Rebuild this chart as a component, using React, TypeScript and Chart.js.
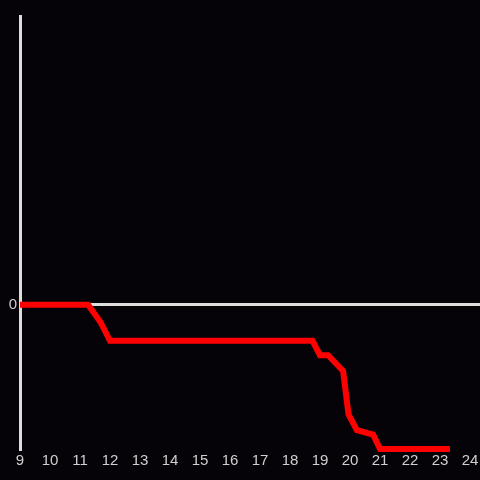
import React, { useEffect, useRef } from "react";
import { Chart, registerables } from "chart.js";

Chart.register(...registerables);

const hours = [9, 11.27, 11.68, 12.0, 18.75, 19.0, 19.27, 19.77, 19.95, 20.23, 20.77, 21.0, 23.33];
const values = [0, 0, -0.12, -0.25, -0.25, -0.35, -0.35, -0.46, -0.76, -0.87, -0.9, -1.0, -1.0];
const xTicks = [9, 10, 11, 12, 13, 14, 15, 16, 17, 18, 19, 20, 21, 22, 23, 24];

const BG = "#050307";
const AXIS = "#dddddd";
const TEXT = "#d0d0d0";

export default function App() {
  const ref = useRef<HTMLCanvasElement | null>(null);
  useEffect(() => {
    document.body.style.margin = "0";
    document.body.style.background = BG;
    const canvas = ref.current!;
    const chart = new Chart(canvas, {
      type: "line",
      data: {
        datasets: [
          {
            data: hours.map((h, i) => ({ x: h, y: values[i] })),
            borderColor: "#ff0000",
            borderWidth: 6,
            pointRadius: 0,
            tension: 0,
            fill: false,
            clip: false as any,
          },
        ],
      },
      options: {
        animation: false,
        responsive: false,
        maintainAspectRatio: false,
        layout: { padding: { top: 16, right: 0, left: 0, bottom: 0 } },
        plugins: { legend: { display: false }, tooltip: { enabled: false } },
        scales: {
          x: {
            type: "linear",
            min: 9,
            max: 24.3333,
            afterBuildTicks: (s: any) => {
              s.ticks = xTicks.map((v) => ({ value: v }));
            },
            afterFit: (s: any) => {
              s.height = 31;
              s.paddingRight = 0;
              s.paddingLeft = 0;
            },
            grid: { display: false, drawTicks: false },
            border: { display: false },
            ticks: {
              color: TEXT,
              font: { family: "Liberation Sans, Arial, sans-serif", size: 15 },
              padding: 3,
              maxRotation: 0,
              autoSkip: false,
              callback: (v: any) => String(v),
            },
          },
          y: {
            type: "linear",
            min: -1,
            max: 2,
            afterBuildTicks: (s: any) => {
              s.ticks = [{ value: 0 }];
            },
            afterFit: (s: any) => {
              s.width = 20;
            },
            grid: {
              color: AXIS,
              lineWidth: 3,
              drawTicks: false,
            },
            border: { display: true, color: AXIS, width: 3 },
            ticks: {
              color: TEXT,
              font: { family: "Liberation Sans, Arial, sans-serif", size: 15 },
              padding: 3,
              callback: (v: any) => String(v),
            },
          },
        },
      },
    });
    return () => chart.destroy();
  }, []);
  return (
    <div style={{ width: 480, height: 480, background: BG }}>
      <canvas ref={ref} width={480} height={480} style={{ display: "block" }} />
    </div>
  );
}
